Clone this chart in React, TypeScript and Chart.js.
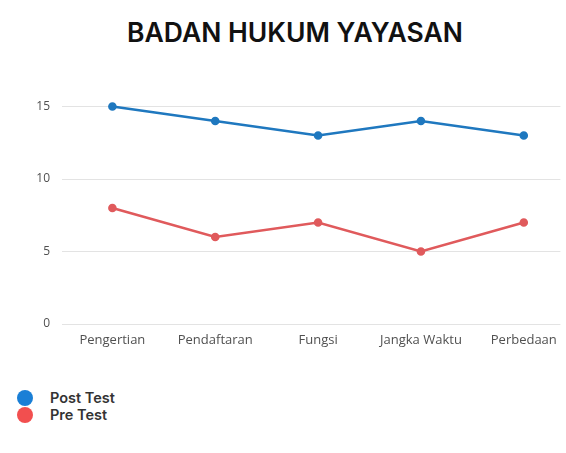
import React, { useEffect, useRef } from "react";
import { Chart, registerables } from "chart.js";

Chart.register(...registerables);

const titleText = "BADAN HUKUM YAYASAN";
const categories = ["Pengertian", "Pendaftaran", "Fungsi", "Jangka Waktu", "Perbedaan"];
const postTest = [15, 14, 13, 14, 13];
const preTest = [8, 6, 7, 5, 7];
const yTicks = [0, 5, 10, 15];
const seriesNames = ["Post Test", "Pre Test"];
const lineColors = ["#1f78bf", "#e05a5c"];
const legendColors = ["#1a7fd6", "#f24f4f"];

export default function App() {
  const ref = useRef<HTMLCanvasElement | null>(null);
  useEffect(() => {
    if (!ref.current) return;
    const mk = (arr: number[]) => arr.map((v, i) => ({ x: i, y: v }));
    const chart = new Chart(ref.current, {
      type: "line",
      data: {
        datasets: [
          {
            label: seriesNames[0],
            data: mk(postTest),
            borderColor: lineColors[0],
            backgroundColor: lineColors[0],
            borderWidth: 2.6,
            pointRadius: 3,
            pointHoverRadius: 3,
          },
          {
            label: seriesNames[1],
            data: mk(preTest),
            borderColor: lineColors[1],
            backgroundColor: lineColors[1],
            borderWidth: 2.6,
            pointRadius: 3,
            pointHoverRadius: 3,
          },
        ],
      },
      options: {
        animation: false,
        responsive: false,
        maintainAspectRatio: false,
        layout: { padding: { top: 63, right: 0, left: 0, bottom: 0 } },
        plugins: { legend: { display: false }, title: { display: false }, tooltip: { enabled: false } },
        scales: {
          x: {
            type: "linear",
            min: -0.49,
            max: 4.356,
            grid: { display: false, drawTicks: false },
            border: { display: false },
            afterBuildTicks: (s: any) => {
              s.ticks = categories.map((_, i) => ({ value: i }));
            },
            afterFit: (s: any) => {
              s.height = 36;
            },
            ticks: {
              padding: 8,
              color: "#505050",
              font: { family: "'Open Sans', sans-serif", size: 13 },
              callback: (v: any) => categories[Number(v)] ?? "",
              maxRotation: 0,
              autoSkip: false,
            },
          },
          y: {
            min: 0,
            max: 18,
            grid: { color: "#e3e3e3", drawTicks: false, lineWidth: 1 },
            border: { display: false },
            afterBuildTicks: (s: any) => {
              s.ticks = yTicks.map((v) => ({ value: v }));
            },
            afterFit: (s: any) => {
              s.width = 62;
            },
            ticks: {
              padding: 12,
              color: "#505050",
              font: { family: "'Open Sans', sans-serif", size: 12 },
            },
          },
        },
      },
    });
    return () => chart.destroy();
  }, []);

  return (
    <div style={{ position: "fixed", left: 0, top: 0, width: 566, height: 453, background: "#fff", overflow: "hidden" }}>
      <div
        style={{
          position: "absolute",
          left: 0,
          width: 590,
          top: 15,
          textAlign: "center",
          fontFamily: "Inter, Roboto, sans-serif",
          fontWeight: 600,
          fontSize: 26.5,
          color: "#111",
          lineHeight: "34px",
        }}
      >
        {titleText}
      </div>
      <canvas ref={ref} width={566} height={360} style={{ position: "absolute", left: 0, top: 0 }} />
      {seriesNames.map((n, i) => (
        <div
          key={n}
          style={{
            position: "absolute",
            left: 17,
            top: 389 + i * 17,
            height: 17,
            display: "flex",
            alignItems: "center",
            fontFamily: "Inter, Roboto, sans-serif",
            fontWeight: 600,
            fontSize: 14.5,
            color: "#333",
          }}
        >
          <span
            style={{
              display: "inline-block",
              width: 16,
              height: 16,
              borderRadius: "50%",
              background: legendColors[i],
              marginRight: 17,
            }}
          />
          {n}
        </div>
      ))}
    </div>
  );
}
